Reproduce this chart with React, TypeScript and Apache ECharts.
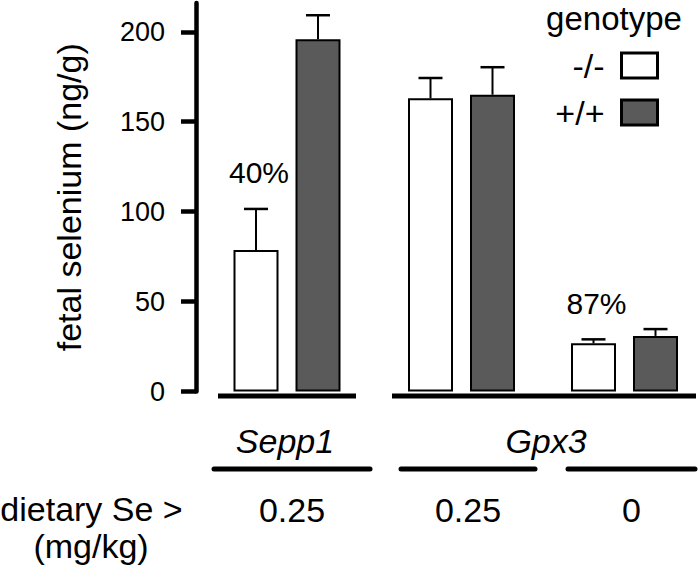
import React, { useEffect, useRef } from 'react';
import * as echarts from 'echarts';

// ---- data ----
const genes = ['Sepp1', 'Gpx3'];
const doses = ['0.25', '0.25', '0'];
const doseTitle = ['dietary Se >', '(mg/kg)'];
const legendTitle = 'genotype';
const genotypes = ['-/-', '+/+'];
const knockoutMean = [78.7, 163.0, 26.8];
const knockoutErr = [22.8, 11.3, 2.2];
const wildTypeMean = [195.8, 165.0, 30.9];
const wildTypeErr = [13.4, 15.3, 3.8];
const knockoutPercent = ['40%', '', '87%'];
const yTicks = [0, 50, 100, 150, 200];

// ---- layout (x-axis units) ----
const GROUP_X = [91, 265.5, 428.5];
const BAR_SHIFT = 31;
const AXIS_SEGMENTS = [[22, 160], [196, 500]];
const DOSE_SPANS = [[18, 174], [205, 339], [372, 499]];
const GENE_X = [89, 350];
const FONT = '"Liberation Sans", Arial, Helvetica, sans-serif';
const GRAY = '#5a5a5a';

function errorSeries(name: string, means: number[], errs: number[], shift: number, labels: string[]) {
  return {
    name,
    type: 'custom',
    z: 4,
    encode: { x: 0, y: 1 },
    data: means.map((m, i) => [GROUP_X[i] + shift, m, errs[i]]),
    renderItem: (params: any, api: any) => {
      const x = api.value(0);
      const v = api.value(1);
      const e = api.value(2);
      const b = api.coord([x, v]);
      const t = api.coord([x, v + e]);
      const children: any[] = [
        { type: 'line', shape: { x1: b[0], y1: b[1], x2: t[0], y2: t[1] }, style: { stroke: '#000', lineWidth: 2 } },
        { type: 'line', shape: { x1: t[0] - 12, y1: t[1], x2: t[0] + 12, y2: t[1] }, style: { stroke: '#000', lineWidth: 2.5 } },
      ];
      const lab = labels[params.dataIndex];
      if (lab) {
        children.push({
          type: 'text',
          x: t[0] + 3,
          y: t[1] - 36,
          style: { text: lab, fontSize: 30, fontFamily: FONT, fill: '#000', align: 'center', verticalAlign: 'middle' },
        });
      }
      return { type: 'group', children };
    },
  };
}

export default function App() {
  const ref = useRef<HTMLDivElement>(null);
  useEffect(() => {
    document.body.style.margin = '0';
    const chart = echarts.init(ref.current!, undefined, { renderer: 'svg' });
    const option: any = {
      animation: false,
      backgroundColor: '#fff',
      textStyle: { fontFamily: FONT },
      grid: { left: 196, right: 0, top: 3, bottom: 178.5, containLabel: false },
      legend: {
        data: genotypes,
        orient: 'vertical',
        right: 41,
        top: 48.5,
        padding: 0,
        align: 'right',
        icon: 'rect',
        itemWidth: 36,
        itemHeight: 25,
        itemGap: 13,
        selectedMode: false,
        itemStyle: { borderColor: '#000', borderWidth: 3 },
        textStyle: { fontSize: 34, color: '#000', fontFamily: FONT, padding: [0, 12, 0, 0] },
      },
      xAxis: { type: 'value', min: 0, max: 504, show: false },
      yAxis: {
        type: 'value',
        min: 0,
        max: 216,
        interval: 50,
        name: 'fetal selenium (ng/g)',
        nameLocation: 'middle',
        nameGap: 110,
        nameTextStyle: { fontSize: 34, color: '#000', fontFamily: FONT },
        axisLine: { show: true, lineStyle: { color: '#000', width: 4.5 } },
        axisTick: { show: true, length: 15, customValues: yTicks, lineStyle: { color: '#000', width: 4.5 } },
        axisLabel: { customValues: yTicks, fontSize: 27, color: '#000', margin: 31, fontFamily: FONT },
        splitLine: { show: false },
      },
      series: [
        {
          name: genotypes[0],
          type: 'bar',
          barWidth: 45,
          barGap: '-100%',
          z: 2,
          itemStyle: { color: '#fff', borderColor: '#000', borderWidth: 2 },
          data: knockoutMean.map((m, i) => [GROUP_X[i] - BAR_SHIFT, m]),
        },
        {
          name: genotypes[1],
          type: 'bar',
          barWidth: 45,
          barGap: '-100%',
          z: 2,
          itemStyle: { color: GRAY, borderColor: '#000', borderWidth: 2 },
          data: wildTypeMean.map((m, i) => [GROUP_X[i] + BAR_SHIFT, m]),
        },
        errorSeries('err -/-', knockoutMean, knockoutErr, -BAR_SHIFT, knockoutPercent),
        errorSeries('err +/+', wildTypeMean, wildTypeErr, BAR_SHIFT, ['', '', '']),
      ],
    };
    chart.setOption(option);

    const px = (x: number, y: number) => chart.convertToPixel({ gridIndex: 0 }, [x, y]) as number[];
    const zeroY = px(0, 0)[1];
    const axisY = zeroY + 4.5;
    const spanY = 469;
    const graphic: any[] = [];
    AXIS_SEGMENTS.forEach(([a, b]) => {
      graphic.push({
        type: 'line',
        shape: { x1: px(a, 0)[0], y1: axisY, x2: px(b, 0)[0], y2: axisY },
        style: { stroke: '#000', lineWidth: 5 },
        z: 10,
      });
    });
    DOSE_SPANS.forEach(([a, b], i) => {
      const x1 = px(a, 0)[0];
      const x2 = px(b, 0)[0];
      graphic.push({
        type: 'line',
        shape: { x1, y1: spanY, x2, y2: spanY },
        style: { stroke: '#000', lineWidth: 5, lineCap: 'round' },
      });
      graphic.push({
        type: 'text',
        x: (x1 + x2) / 2,
        y: 510,
        style: { text: doses[i], fontSize: 34, fontFamily: FONT, fill: '#000', align: 'center', verticalAlign: 'middle' },
      });
    });
    genes.forEach((g, i) => {
      graphic.push({
        type: 'text',
        x: px(GENE_X[i], 0)[0],
        y: 441,
        style: { text: g, fontSize: 34, fontStyle: 'italic', fontFamily: FONT, fill: '#000', align: 'center', verticalAlign: 'middle' },
      });
    });
    graphic.push({
      type: 'text',
      x: 91.5,
      y: 509,
      style: { text: doseTitle[0], fontSize: 34, fontFamily: FONT, fill: '#000', align: 'center', verticalAlign: 'middle' },
    });
    graphic.push({
      type: 'text',
      x: 91,
      y: 546,
      style: { text: doseTitle[1], fontSize: 34, fontFamily: FONT, fill: '#000', align: 'center', verticalAlign: 'middle' },
    });
    graphic.push({
      type: 'text',
      x: 614,
      y: 2,
      style: { text: legendTitle, fontSize: 33, fontFamily: FONT, fill: '#000', align: 'center', verticalAlign: 'top' },
    });
    chart.setOption({ graphic });

    return () => chart.dispose();
  }, []);
  return <div ref={ref} style={{ width: 700, height: 570, position: 'absolute', left: 0, top: 0 }} />;
}
